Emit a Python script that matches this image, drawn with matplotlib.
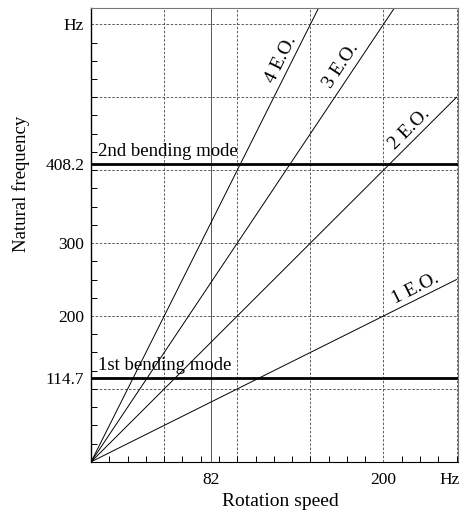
import numpy as np
import matplotlib
matplotlib.use("Agg")
import matplotlib.pyplot as plt

# Campbell diagram data
orders = [1, 2, 3, 4]
order_labels = ["1 E.O.", "2 E.O.", "3 E.O.", "4 E.O."]
order_label_speed = [222, 218, 171, 130]
order_label_freq = [238, 457, 543, 551]
mode_freqs = [114.7, 408.2]
mode_labels = ["1st bending mode", "2nd bending mode"]
speed = np.array([0, 250])

xtick_vals = [82, 200, 245]
xtick_text = ["82", "200", "Hz"]
ytick_vals = [114.7, 200, 300, 408.2, 600]
ytick_text = ["114.7", "200", "300", "408.2", "Hz"]

plt.rcParams['font.family'] = ['Liberation Serif', 'DejaVu Serif']

fig = plt.figure(figsize=(4.65, 5.16), dpi=100)
ax = fig.add_axes([0.196, 0.105, 0.789, 0.879])
ax.set_xlim(0, 251)
ax.set_ylim(0, 622)

# dashed grid
for gx in [50, 100, 150, 200, 250]:
    ax.axvline(gx, color='#444444', lw=0.6, ls=(0, (3, 2)), zorder=1)
for gy in [100, 200, 300, 400, 500, 600]:
    ax.axhline(gy, color='#444444', lw=0.6, ls=(0, (3, 2)), zorder=1)
ax.axvline(82, color='#555555', lw=0.7, zorder=1)

# engine orders
for n, lab, lx, ly in zip(orders, order_labels, order_label_speed, order_label_freq):
    ax.plot(speed, n * speed, color='black', lw=0.7, zorder=2)
    ang = np.degrees(np.arctan(n * (0.73 / 1.455)))
    ax.text(lx, ly, lab, rotation=ang, ha='center', va='center',
            fontsize=14, rotation_mode='anchor')

# bending modes
for f, lab, in zip(mode_freqs, mode_labels):
    ax.plot([0, 250], [f, f], color='black', lw=2, zorder=3)
    ax.text(5, f + 6, lab, ha='left', va='bottom', fontsize=13.5)

ax.set_xticks(xtick_vals)
ax.set_xticklabels(xtick_text, fontsize=12.5)
ax.set_yticks(ytick_vals)
ax.set_yticklabels(ytick_text, fontsize=12.5)
ax.set_xticks(np.arange(0, 251, 12.5), minor=True)
ax.set_yticks(np.arange(0, 601, 25), minor=True)
ax.tick_params(axis='x', which='major', length=0, pad=7)
ax.tick_params(axis='y', which='major', length=0, pad=5)
ax.tick_params(which='minor', direction='in', length=4, width=0.7)

for s in ['top', 'right']:
    ax.spines[s].set_color('#777777')
    ax.spines[s].set_linewidth(0.8)
ax.spines['left'].set_linewidth(1.0)
ax.spines['bottom'].set_linewidth(0.8)

ax.set_xlabel("Rotation speed", fontsize=14)
ax.set_ylabel("Natural frequency", fontsize=13.5)
ax.xaxis.set_label_coords(0.515, -0.068)
ax.yaxis.set_label_coords(-0.166, 0.612)

fig.savefig("out.png", dpi=100)
